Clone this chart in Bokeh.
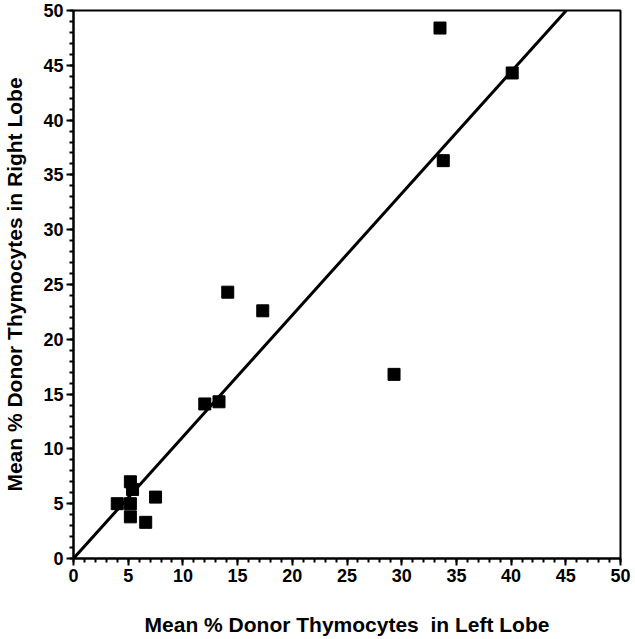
from bokeh.plotting import figure
from bokeh.models import Range1d, SingleIntervalTicker
from bokeh.embed import file_html
from bokeh.resources import INLINE

# Data
left_lobe = [33.5, 40.1, 33.8, 29.3, 14.1, 17.3, 12.0, 13.3, 5.2, 5.4, 4.0, 5.2, 7.5, 5.2, 6.6]
right_lobe = [48.4, 44.3, 36.3, 16.8, 24.3, 22.6, 14.1, 14.3, 7.0, 6.3, 5.0, 5.0, 5.6, 3.8, 3.3]
fit_slope = 1.11
axis_max = 50

FONT = "Liberation Sans"

p = figure(width=632, height=638, output_backend="svg", toolbar_location=None,
           x_range=Range1d(0, axis_max), y_range=Range1d(0, axis_max),
           min_border_left=73, min_border_right=12, min_border_top=10, min_border_bottom=80)

p.grid.visible = False
p.outline_line_color = "black"
p.outline_line_width = 2
p.background_fill_color = "white"
p.border_fill_color = "white"

fit_x = [0, axis_max / fit_slope]
fit_y = [0, axis_max]
p.line(fit_x, fit_y, line_color="black", line_width=3)
p.scatter(left_lobe, right_lobe, marker="square", size=12, fill_color="black", line_color="black")

for ax in (p.xaxis[0], p.yaxis[0]):
    ax.ticker = SingleIntervalTicker(interval=5, num_minor_ticks=5)
    ax.axis_line_width = 2
    ax.major_tick_line_width = 2
    ax.minor_tick_line_width = 2
    ax.major_tick_out = 7
    ax.major_tick_in = 0
    ax.minor_tick_out = 4
    ax.minor_tick_in = 0
    ax.major_label_text_font = FONT
    ax.major_label_text_font_style = "bold"
    ax.major_label_text_font_size = "18px"
    ax.major_label_text_color = "black"
    ax.axis_label_text_font = FONT
    ax.axis_label_text_font_style = "bold"
    ax.axis_label_text_font_size = "21px"
    ax.axis_label_text_color = "black"

p.xaxis.axis_label = "Mean % Donor Thymocytes \u00a0in Left Lobe"
p.yaxis.axis_label = "Mean % Donor Thymocytes in Right Lobe"
p.xaxis.major_label_standoff = 3
p.yaxis.major_label_standoff = 3
p.xaxis.axis_label_standoff = 28
p.yaxis.axis_label_standoff = 14

open("out.html", "w").write(file_html(p, INLINE))
